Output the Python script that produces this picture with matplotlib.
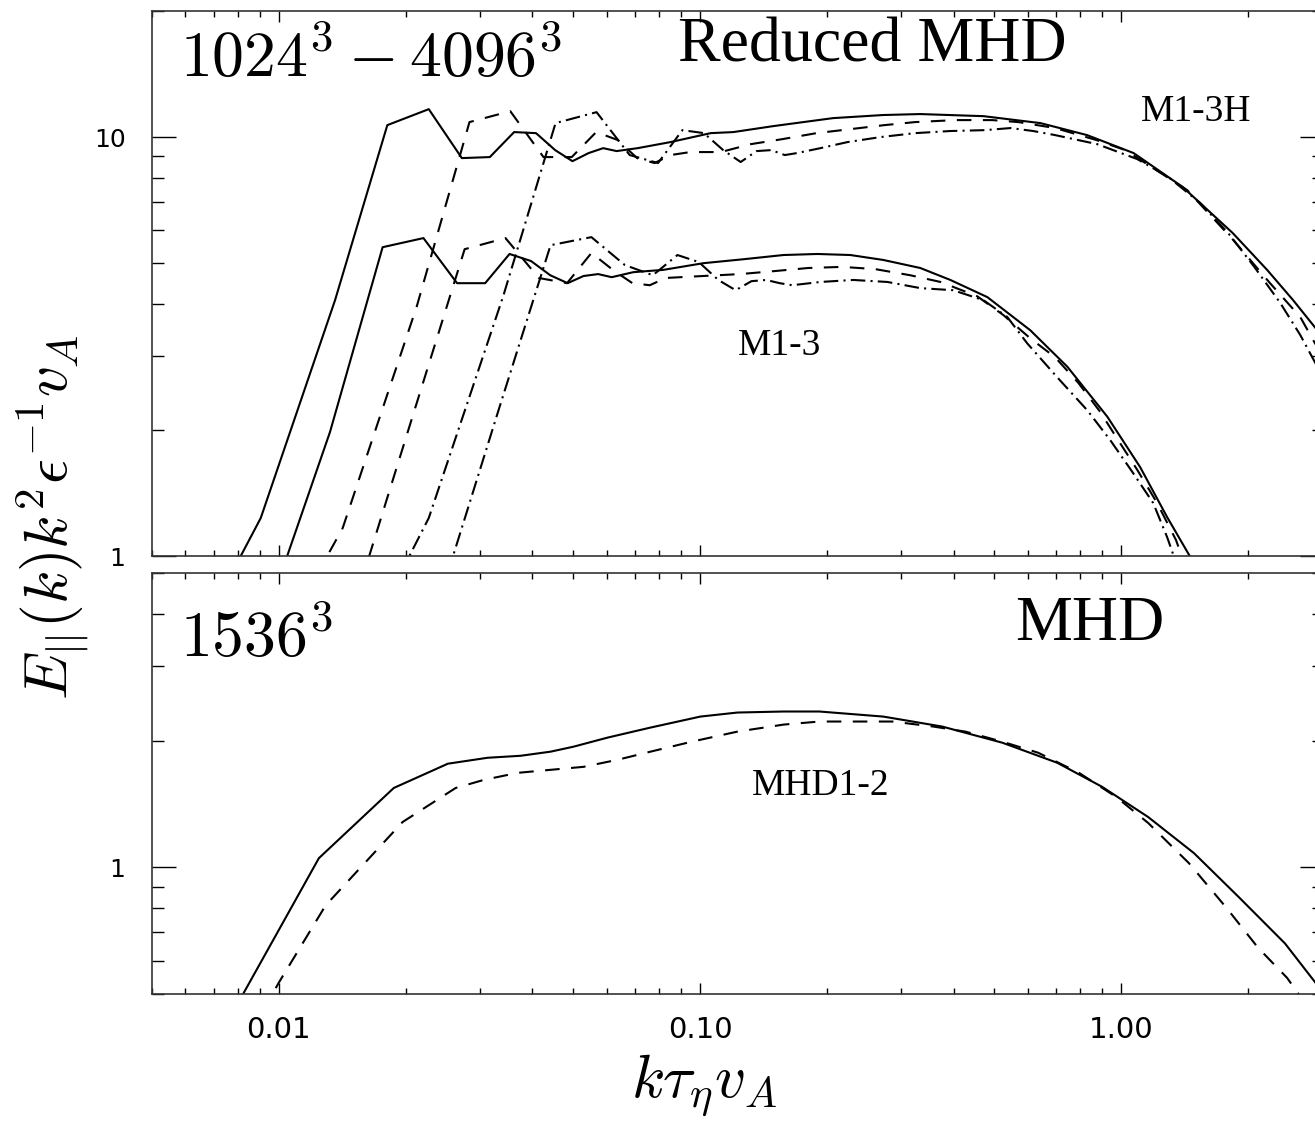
import numpy as np
import matplotlib
matplotlib.use("Agg")
import matplotlib.pyplot as plt
from matplotlib.ticker import FixedLocator, FixedFormatter, LogLocator, NullFormatter

plt.rcParams['mathtext.fontset'] = 'cm'
plt.rcParams['font.family'] = ['DejaVu Sans']

# ---- Reduced MHD, upper group (M1-3H) ----
m13h_solid_k = [0.00453, 0.00906, 0.0136, 0.0181, 0.0227, 0.0272, 0.0317, 0.0362, 0.0408, 0.0453,
                0.0498, 0.0544, 0.0589, 0.0634, 0.0711, 0.0851, 0.106, 0.120, 0.149, 0.207,
                0.272, 0.333, 0.471, 0.643, 0.830, 1.07, 1.40, 1.84, 2.22, 2.56, 2.88, 3.03]
m13h_solid_e = [0.328, 1.232, 4.08, 10.68, 11.66, 8.91, 8.96, 10.28, 10.22, 9.31,
                8.76, 9.16, 9.41, 9.26, 9.41, 9.73, 10.22, 10.28, 10.62, 11.10,
                11.29, 11.35, 11.22, 10.80, 10.11, 9.16, 7.60, 5.90, 4.82, 4.08, 3.52, 3.31]

m13h_dash_k = [0.00709, 0.01418, 0.02127, 0.02836, 0.03545, 0.0425, 0.0496, 0.0567, 0.0638, 0.0709,
               0.0780, 0.0851, 0.0948, 0.112, 0.132, 0.157, 0.189, 0.228, 0.274, 0.324,
               0.404, 0.494, 0.570, 0.697, 0.873, 1.023, 1.435, 1.845, 2.256, 2.661, 2.884, 3.03]
m13h_dash_e = [0.331, 1.166, 3.95, 10.86, 11.53, 8.96, 8.96, 10.28, 9.84, 8.91,
               8.67, 9.06, 9.21, 9.21, 9.62, 9.89, 10.22, 10.45, 10.68, 10.86,
               10.98, 10.98, 10.86, 10.51, 9.84, 9.31, 7.47, 5.68, 4.48, 3.72, 3.22, 2.98]

m13h_dd_k = [0.01135, 0.0227, 0.0341, 0.0454, 0.0568, 0.0681, 0.0795, 0.0908, 0.1022, 0.1135,
             0.1249, 0.1362, 0.1476, 0.159, 0.170, 0.193, 0.224, 0.268, 0.324, 0.393,
             0.475, 0.546, 0.618, 0.697, 0.877, 1.092, 1.294, 1.540, 1.795, 2.070, 2.385,
             2.661, 2.884, 3.03]
m13h_dd_e = [0.315, 1.232, 4.17, 10.80, 11.47, 9.06, 8.67, 10.39, 10.22, 9.31,
             8.72, 9.26, 9.31, 9.06, 9.16, 9.41, 9.73, 10.0, 10.22, 10.34,
             10.39, 10.51, 10.34, 10.11, 9.62, 8.86, 8.03, 6.96, 5.90, 4.90, 4.02,
             3.37, 2.90, 2.67]

# ---- Reduced MHD, lower group (M1-3) ----
m13_solid_k = [0.00882, 0.01323, 0.01764, 0.02205, 0.0265, 0.0309, 0.0353, 0.0397, 0.0441, 0.0485,
               0.0529, 0.0573, 0.0617, 0.0695, 0.0818, 0.1018, 0.1268, 0.1578, 0.190, 0.2275,
               0.2723, 0.3334, 0.393, 0.481, 0.608, 0.745, 0.927, 1.109, 1.285, 1.473, 1.582]
m13_solid_e = [0.607, 1.977, 5.46, 5.74, 4.48, 4.48, 5.26, 5.06, 4.68, 4.48,
               4.66, 4.71, 4.63, 4.76, 4.82, 5.00, 5.11, 5.23, 5.26, 5.23,
               5.09, 4.87, 4.56, 4.15, 3.46, 2.83, 2.15, 1.63, 1.239, 0.978, 0.853]

m13_dash_k = [0.01381, 0.02072, 0.02762, 0.03453, 0.04143, 0.04834, 0.05524, 0.0621, 0.0691, 0.0760,
              0.0829, 0.0898, 0.1247, 0.151, 0.1807, 0.2178, 0.2606, 0.3155, 0.3724, 0.455,
              0.525, 0.608, 0.697, 0.791, 0.891, 0.977, 1.092, 1.217, 1.349, 1.403, 1.45]
m13_dash_e = [0.574, 2.135, 5.40, 5.74, 4.61, 4.48, 5.29, 4.82, 4.48, 4.43,
              4.61, 4.63, 4.71, 4.79, 4.87, 4.90, 4.84, 4.68, 4.51, 4.17,
              3.76, 3.31, 2.98, 2.59, 2.21, 1.91, 1.605, 1.338, 1.092, 0.978, 0.90]

m13_dd_k = [0.02209, 0.03314, 0.04418, 0.05523, 0.0663, 0.0773, 0.0884, 0.0994, 0.1105, 0.1215,
            0.1325, 0.1436, 0.1546, 0.1657, 0.193, 0.2312, 0.2786, 0.3334, 0.399, 0.471,
            0.5365, 0.598, 0.705, 0.830, 0.942, 1.067, 1.191, 1.285, 1.343, 1.39]
m13_dd_e = [0.597, 2.207, 5.52, 5.77, 4.95, 4.68, 5.23, 5.03, 4.56, 4.31,
            4.53, 4.56, 4.48, 4.43, 4.51, 4.56, 4.51, 4.36, 4.31, 4.08,
            3.72, 3.22, 2.67, 2.23, 1.89, 1.578, 1.338, 1.110, 0.978, 0.90]

# ---- MHD (MHD1-2) ----
mhd_solid_k = [0.00769, 0.01245, 0.01875, 0.0252, 0.0313, 0.0375, 0.0442, 0.0501, 0.0603, 0.0763,
               0.1002, 0.1227, 0.1578, 0.1921, 0.2723, 0.3758, 0.5224, 0.705, 0.9016, 1.159,
               1.489, 1.905, 2.449, 2.904, 3.03]
mhd_solid_e = [0.443, 1.051, 1.543, 1.762, 1.820, 1.840, 1.882, 1.934, 2.032, 2.147,
               2.280, 2.331, 2.344, 2.344, 2.280, 2.159, 1.976, 1.771, 1.552, 1.316,
               1.080, 0.848, 0.659, 0.529, 0.495]

mhd_dash_k = [0.00917, 0.0100, 0.01292, 0.01968, 0.0263, 0.0307, 0.0369, 0.0442, 0.0529, 0.0637,
              0.0763, 0.0955, 0.1227, 0.1578, 0.1921, 0.235, 0.2862, 0.358, 0.4266, 0.5224,
              0.635, 0.794, 0.973, 1.159, 1.449, 1.774, 2.113, 2.477, 2.643, 2.81]
mhd_dash_e = [0.456, 0.532, 0.812, 1.281, 1.543, 1.613, 1.676, 1.704, 1.732, 1.800,
              1.882, 1.987, 2.100, 2.182, 2.219, 2.219, 2.219, 2.159, 2.100, 1.987,
              1.871, 1.676, 1.469, 1.274, 1.022, 0.803, 0.644, 0.546, 0.498, 0.456]

W, H = 1315, 1125
LW = 1.5
DASHED = (0, (7, 5.5))
DASHDOT = (0, (7, 2.5, 1, 2.5))

fig = plt.figure(figsize=(W / 100, H / 100), dpi=100)
ax1 = fig.add_axes([152 / W, 1 - 556 / H, (1324 - 152) / W, (556 - 11) / H])
ax2 = fig.add_axes([152 / W, 1 - 994 / H, (1324 - 152) / W, (994 - 573) / H])

ax1.plot(m13h_solid_k, m13h_solid_e, color='k', lw=LW, ls='-')
ax1.plot(m13h_dash_k, m13h_dash_e, color='k', lw=LW, ls=DASHED)
ax1.plot(m13h_dd_k, m13h_dd_e, color='k', lw=LW, ls=DASHDOT)
ax1.plot(m13_solid_k, m13_solid_e, color='k', lw=LW, ls='-')
ax1.plot(m13_dash_k, m13_dash_e, color='k', lw=LW, ls=DASHED)
ax1.plot(m13_dd_k, m13_dd_e, color='k', lw=LW, ls=DASHDOT)

ax2.plot(mhd_solid_k, mhd_solid_e, color='k', lw=LW, ls='-')
ax2.plot(mhd_dash_k, mhd_dash_e, color='k', lw=LW, ls=DASHED)

for ax in (ax1, ax2):
    ax.set_xscale('log')
    ax.set_yscale('log')
    ax.set_xlim(0.005, 3.03)
    ax.xaxis.set_major_locator(FixedLocator([0.01, 0.1, 1.0]))
    ax.xaxis.set_minor_locator(LogLocator(base=10, subs=np.arange(2, 10), numticks=50))
    ax.xaxis.set_minor_formatter(NullFormatter())
    ax.yaxis.set_minor_locator(LogLocator(base=10, subs=np.arange(2, 10), numticks=50))
    ax.yaxis.set_minor_formatter(NullFormatter())
    ax.tick_params(which='both', direction='in', top=True, right=True, width=1.0,
                   labelsize=20, colors='k')
    ax.tick_params(axis='x', which='major', length=8, pad=16, labelsize=21)
    ax.tick_params(axis='x', which='minor', length=4.5)
    ax.tick_params(axis='y', which='major', length=17, pad=19, labelsize=18)
    ax.tick_params(axis='y', which='minor', length=8.5)
    for sp in ax.spines.values():
        sp.set_linewidth(1.2)
        sp.set_color('#333333')

ax1.set_ylim(1, 20)
ax1.yaxis.set_major_locator(FixedLocator([1, 10]))
ax1.yaxis.set_major_formatter(FixedFormatter(['1', '10']))
ax1.xaxis.set_major_formatter(NullFormatter())

ax2.set_ylim(0.5, 5.0)
ax2.yaxis.set_major_locator(FixedLocator([1]))
ax2.yaxis.set_major_formatter(FixedFormatter(['1']))
ax2.xaxis.set_major_formatter(FixedFormatter(['0.01', '0.10', '1.00']))

serif = 'Liberation Serif'
fig.text(180 / W, 1 - 77 / H, r'$1024^3-4096^3$', fontsize=46, ha='left', va='baseline')
fig.text(678 / W, 1 - 62 / H, 'Reduced MHD', family=serif, fontsize=46, ha='left', va='baseline')
fig.text(1141 / W, 1 - 121 / H, 'M1-3H', family=serif, fontsize=27, ha='left', va='baseline')
fig.text(738 / W, 1 - 355 / H, 'M1-3', family=serif, fontsize=27, ha='left', va='baseline')
fig.text(180 / W, 1 - 657 / H, r'$1536^3$', fontsize=46, ha='left', va='baseline')
fig.text(1015 / W, 1 - 640 / H, 'MHD', family=serif, fontsize=46, ha='left', va='baseline')
fig.text(752 / W, 1 - 795 / H, 'MHD1-2', family=serif, fontsize=27, ha='left', va='baseline')

fig.text(52 / W, 1 - 517 / H, r'$E_{||}(k)k^2\epsilon^{-1}v_A$', fontsize=44,
         rotation=90, ha='center', va='center')
fig.text(704 / W, 1 - 1085 / H, r'$k\tau_\eta v_A$', fontsize=44, ha='center', va='center')

fig.savefig('out.png', dpi=100)
